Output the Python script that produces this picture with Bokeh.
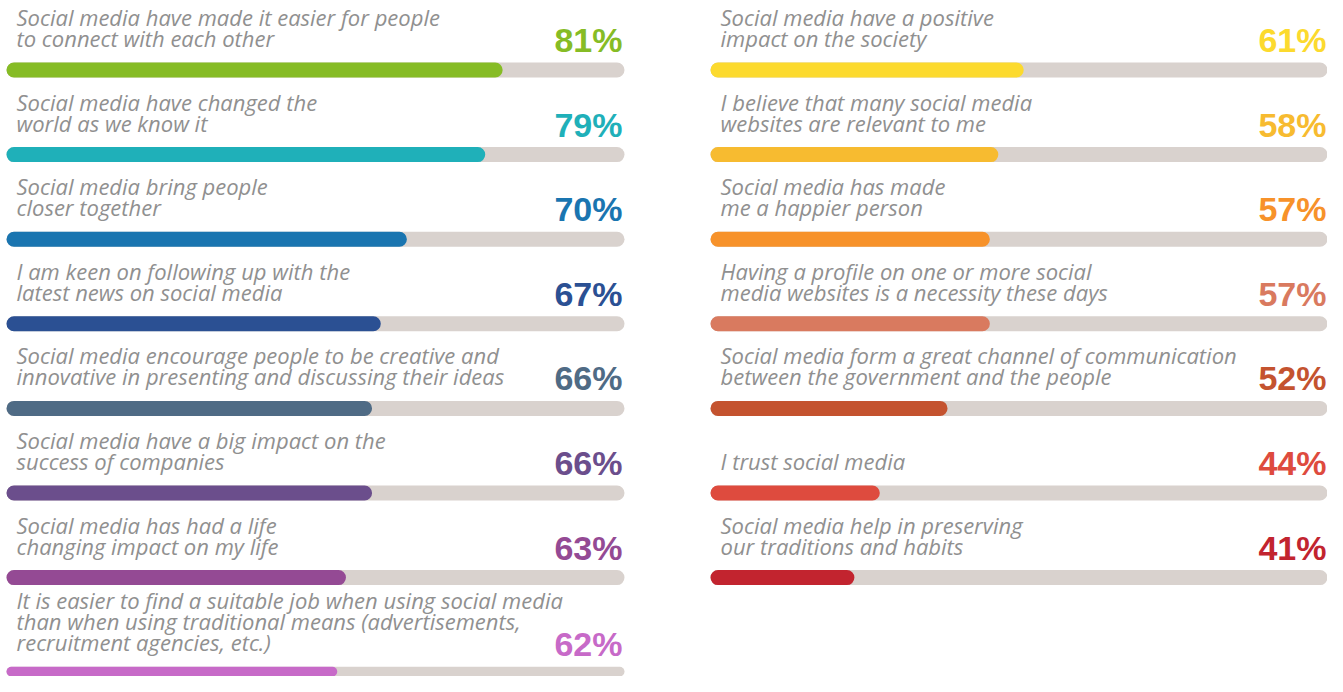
from bokeh.plotting import figure
from bokeh.layouts import row
from bokeh.models import Range1d, ColumnDataSource
from bokeh.embed import file_html
from bokeh.resources import INLINE
from bokeh.core.properties import value

# ---------------- data ----------------
left_labels = [
    "Social media have made it easier for people\nto connect with each other",
    "Social media have changed the\nworld as we know it",
    "Social media bring people\ncloser together",
    "I am keen on following up with the\nlatest news on social media",
    "Social media encourage people to be creative and\ninnovative in presenting and discussing their ideas",
    "Social media have a big impact on the\nsuccess of companies",
    "Social media has had a life\nchanging impact on my life",
    "It is easier to find a suitable job when using social media\nthan when using traditional means (advertisements,\nrecruitment agencies, etc.)",
]
left_values = [81, 79, 70, 67, 66, 66, 63, 62]
left_colors = ["#86bc25", "#1fb0b9", "#1a75b0", "#2b5093", "#4f6b85", "#6b4e8c", "#944a94", "#c76ac8"]
left_axis = (24, 95)

right_labels = [
    "Social media have a positive\nimpact on the society",
    "I believe that many social media\nwebsites are relevant to me",
    "Social media has made\nme a happier person",
    "Having a profile on one or more social\nmedia websites is a necessity these days",
    "Social media form a great channel of communication\nbetween the government and the people",
    "I trust social media",
    "Social media help in preserving\nour traditions and habits",
]
right_values = [61, 58, 57, 57, 52, 44, 41]
right_colors = ["#fcda2e", "#f7bb30", "#f7922a", "#d97a5f", "#c4532f", "#de4b3e", "#c2242f"]
right_axis = (24, 97)

# ---------------- style / layout ----------------
TRACK_COLOR = "#d9d2ce"
LABEL_COLOR = "#909090"
FIG_H = 676
TRACK_PX = 618
FIRST_BAR = 69.5
ROW_STEP = 84.6
EXTRA_LINE_GAP = 12
LINE_H = 21
LABEL_GAP = 32
PCT_GAP = 30
BAR_H = 15


def make_panel(labels, values, colors, axis, width, pad_left):
    amin, amax = axis
    px_per_unit = TRACK_PX / (amax - amin)
    x0 = amin - pad_left / px_per_unit
    x1 = x0 + width / px_per_unit
    p = figure(width=width, height=FIG_H, x_range=Range1d(x0, x1),
               y_range=Range1d(FIG_H, 0), output_backend="svg",
               toolbar_location=None, min_border=0)
    p.axis.visible = False
    p.grid.visible = False
    p.outline_line_color = None
    p.background_fill_color = "white"
    p.border_fill_color = "white"

    ys = []
    extra = 0
    for i, lab in enumerate(labels):
        n = lab.count("\n") + 1
        extra += max(0, n - 2) * EXTRA_LINE_GAP
        ys.append(FIRST_BAR + i * ROW_STEP + extra)

    src = ColumnDataSource(dict(y=ys, v=values, color=colors,
                                pct=[f"{v}%" for v in values],
                                py=[y - PCT_GAP for y in ys]))

    p.hbar(y="y", left=amin, right=amax, height=BAR_H, source=src,
           fill_color=TRACK_COLOR, line_color=None, border_radius=8)
    p.hbar(y="y", left=amin, right="v", height=BAR_H, source=src,
           fill_color="color", line_color=None, border_radius=8)

    lx, ly, lt = [], [], []
    for y, lab in zip(ys, labels):
        lines = lab.split("\n")
        n = len(lines)
        for j, ln in enumerate(lines):
            lx.append(amin)
            ly.append(y - LABEL_GAP - (n - 1 - j) * LINE_H)
            lt.append(ln)
    p.text(x=lx, y=ly, text=lt, x_offset=10, text_font=value("Open Sans"),
           text_font_style="italic", text_font_size="22px",
           text_color=LABEL_COLOR, text_baseline="alphabetic", text_align="left")

    p.text(x=amax, y="py", text="pct", source=src, x_offset=-2,
           text_font=value("Liberation Sans"), text_font_style="bold",
           text_font_size="34px", text_color="color",
           text_baseline="alphabetic", text_align="right")
    return p


left = make_panel(left_labels, left_values, left_colors, left_axis, 700, 6)
right = make_panel(right_labels, right_values, right_colors, right_axis, 627, 10)

layout = row(left, right)
open("out.html", "w").write(file_html(layout, INLINE))
